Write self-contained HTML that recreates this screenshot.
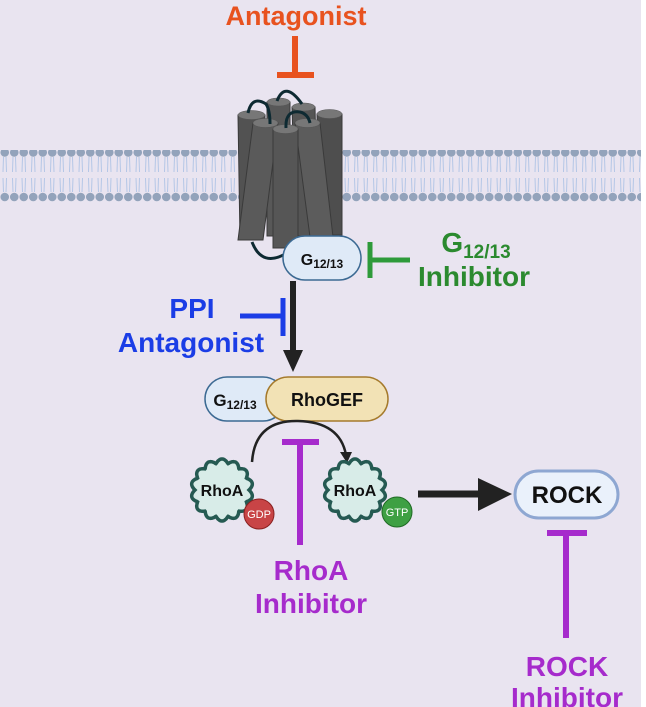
<!DOCTYPE html>
<html><head><style>
html,body{margin:0;padding:0;background:#fff;}
svg{display:block;}
text{font-family:"Liberation Sans",sans-serif;font-weight:bold;}
</style></head><body>
<svg width="646" height="707" viewBox="0 0 646 707" xmlns="http://www.w3.org/2000/svg">
<defs>
<pattern id="mem" x="0" y="150" width="9.5" height="60" patternUnits="userSpaceOnUse">
<path d="M3.5 7 L3 22 M6 7 L6.5 22 M3 28 L3.5 42 M6.5 28 L6 42" stroke="#b4c6e6" stroke-width="1" fill="none"/>
<circle cx="4.75" cy="2.5" r="4.3" fill="#93a3bb"/>
<circle cx="4.75" cy="47" r="4.3" fill="#93a3bb"/>
</pattern>
</defs>
<rect width="641" height="707" fill="#e9e4f0"/>
<rect x="0" y="148" width="641" height="56" fill="url(#mem)"/>
<text x="296" y="25" font-size="27" fill="#e8521f" text-anchor="middle">Antagonist</text>
<path d="M295 36 V75 M277 75 H314" stroke="#e8521f" stroke-width="6" fill="none"/>
<g stroke="#3a3a3a" stroke-width="1">
<polygon points="267,102 290,102 290,236 267,236" fill="#585858"/>
<polygon points="292,107 315,107 318,236 296,236" fill="#555"/>
<polygon points="238,115 265,115 262,240 240,240" fill="#525252"/>
<polygon points="317,114 342,114 342,235 320,235" fill="#4e4e4e"/>
<polygon points="253,123 278,123 263,240 238,240" fill="#5a5a5a"/>
<polygon points="295,123 320,123 333,237 310,237" fill="#5c5c5c"/>
<polygon points="273,129 298,129 298,248 273,248" fill="#565656"/>
</g>
<g fill="#777" stroke="#555" stroke-width="0.5">
<ellipse cx="278.5" cy="102" rx="11.5" ry="4"/><ellipse cx="303.5" cy="107" rx="11.5" ry="4"/>
<ellipse cx="251.5" cy="115" rx="13.5" ry="4.5"/><ellipse cx="329.5" cy="114" rx="12.5" ry="4.5"/>
<ellipse cx="265.5" cy="123" rx="12.5" ry="4.5"/><ellipse cx="307.5" cy="123" rx="12.5" ry="4.5"/>
<ellipse cx="285.5" cy="129" rx="12.5" ry="4.5"/>
</g>
<path d="M248 113 Q252 95 266 104 Q270 110 270 124 M277 101 Q285 80 302 104 M286 128 Q285 110 300 112 Q308 114 310 123" stroke="#0e2a32" stroke-width="3" fill="none"/>
<path d="M252 242 Q262 268 287 253" stroke="#0e2a32" stroke-width="3" fill="none"/>
<rect x="283" y="236" width="78" height="44" rx="22" fill="#dfeaf7" stroke="#3c6a93" stroke-width="1.5"/>
<text x="322" y="265" font-size="16" fill="#111" text-anchor="middle">G<tspan font-size="12" dy="3">12/13</tspan></text>
<path d="M370 242 V278 M370 260 H410" stroke="#2e9a3a" stroke-width="5" fill="none"/>
<text x="476" y="252" font-size="28" fill="#2b8a2f" text-anchor="middle">G<tspan font-size="19" dy="6">12/13</tspan></text>
<text x="474" y="286" font-size="28" fill="#2b8a2f" text-anchor="middle">Inhibitor</text>
<text x="192" y="318" font-size="28" fill="#1b3de6" text-anchor="middle">PPI</text>
<text x="191" y="352" font-size="28" fill="#1b3de6" text-anchor="middle">Antagonist</text>
<path d="M283 298 V336 M240 316 H283" stroke="#1b3de6" stroke-width="5" fill="none"/>
<path d="M293 281 V355" stroke="#222" stroke-width="6"/>
<polygon points="283,350 303,350 293,372" fill="#222"/>
<rect x="205" y="377" width="80" height="44" rx="22" fill="#dfeaf7" stroke="#3c6a93" stroke-width="1.5"/>
<text x="235" y="406" font-size="17" fill="#111" text-anchor="middle">G<tspan font-size="12" dy="3">12/13</tspan></text>
<rect x="266" y="377" width="122" height="44" rx="22" fill="#f2e2b5" stroke="#a57a2c" stroke-width="1.5"/>
<text x="327" y="406" font-size="18" fill="#111" text-anchor="middle">RhoGEF</text>
<path d="M252 462 Q255 420 298 421 Q340 422 346 455" stroke="#222" stroke-width="2.5" fill="none"/>
<polygon points="340,452 352,452 347,463" fill="#222"/>
<path id="s1" fill="#d8ece8" stroke="#255a52" stroke-width="3.5"/>
<path id="s2" fill="#d8ece8" stroke="#255a52" stroke-width="3.5"/>
<text x="222" y="496" font-size="16" fill="#111" text-anchor="middle">RhoA</text>
<circle cx="259" cy="514" r="15" fill="#c84446" stroke="#8a2020" stroke-width="1"/>
<text x="259" y="518" font-size="11" fill="#fff" text-anchor="middle" style="font-weight:normal">GDP</text>
<text x="355" y="496" font-size="16" fill="#111" text-anchor="middle">RhoA</text>
<circle cx="397" cy="512" r="15" fill="#3ea043" stroke="#1f6a24" stroke-width="1"/>
<text x="397" y="516" font-size="11" fill="#fff" text-anchor="middle" style="font-weight:normal">GTP</text>
<path d="M300 442 V545 M282 442 H319" stroke="#a62bcc" stroke-width="6" fill="none"/>
<text x="311" y="580" font-size="28" fill="#a62bcc" text-anchor="middle">RhoA</text>
<text x="311" y="613" font-size="28" fill="#a62bcc" text-anchor="middle">Inhibitor</text>
<path d="M418 494 H482" stroke="#222" stroke-width="7"/>
<polygon points="478,478 512,494 478,511" fill="#222"/>
<rect x="515" y="471" width="103" height="47" rx="23.5" fill="#eaf1fb" stroke="#8ea7d2" stroke-width="3"/>
<text x="567" y="503" font-size="24" fill="#111" text-anchor="middle">ROCK</text>
<path d="M566 533 V638 M547 533 H587" stroke="#a62bcc" stroke-width="6" fill="none"/>
<text x="567" y="676" font-size="28" fill="#a62bcc" text-anchor="middle">ROCK</text>
<text x="567" y="707" font-size="28" fill="#a62bcc" text-anchor="middle">Inhibitor</text>
</svg>
<script>
function star(cx,cy,r,a,n){var d="";for(var i=0;i<=360;i++){var t=i*Math.PI/180;var rr=r+a*Math.abs(Math.sin(n*t/2));d+=(i?"L":"M")+(cx+rr*Math.cos(t)).toFixed(1)+" "+(cy+rr*Math.sin(t)).toFixed(1);}return d+"Z";}
document.getElementById("s1").setAttribute("d",star(222,490,27,4,14));
document.getElementById("s2").setAttribute("d",star(355,490,27,4,14));
</script>
</body></html>
